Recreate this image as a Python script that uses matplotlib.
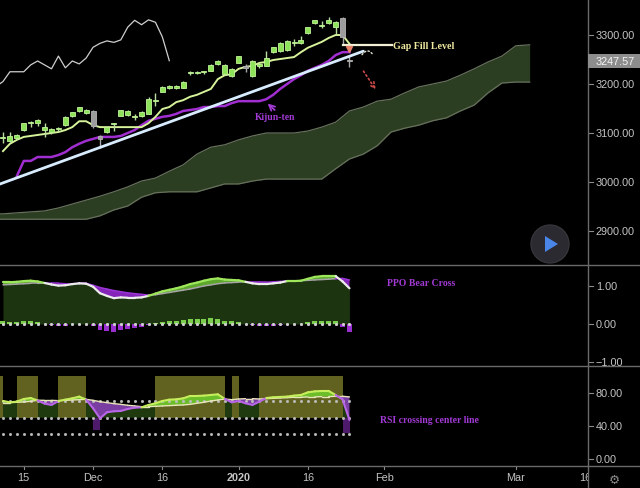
import numpy as np
import pandas as pd
import matplotlib
matplotlib.use('Agg')
from matplotlib import pyplot as plt
from matplotlib.collections import LineCollection
from matplotlib.lines import Line2D
from matplotlib.patches import Circle, Polygon, Rectangle
from matplotlib.transforms import Bbox, TransformedBbox, IdentityTransform, blended_transform_factory

plt.rcParams['font.family'] = ['Liberation Sans', 'DejaVu Sans']

# --- data -------------------------------------------------------------------
holidays = ['2019-11-28', '2019-12-25', '2020-01-01', '2020-01-20', '2020-02-17']
sessions = pd.bdate_range('2019-11-12', '2020-03-31').drop(pd.DatetimeIndex(holidays))

opens = [3090, 3084, 3090, 3106, 3120, 3121, 3106, 3102, 3109, 3116, 3135, 3145, 3140,
         3145, 3094, 3102, 3118, 3135, 3136, 3132, 3135, 3139, 3166, 3184, 3192, 3191,
         3192, 3223, 3223, 3224, 3227, 3240, 3220, 3216, 3243, 3236, 3216, 3236, 3237,
         3266, 3268, 3270, 3283, 3283, 3304, 3324, 3319, 3324, 3316, 3335, 3249]
highs = [3102, 3102, 3098, 3121, 3124, 3128, 3120, 3110, 3113, 3134, 3143, 3154, 3148,
         3146, 3096, 3114, 3121, 3147, 3146, 3139, 3144, 3173, 3182, 3195, 3197, 3198,
         3206, 3226, 3227, 3226, 3240, 3248, 3240, 3232, 3258, 3240, 3248, 3243, 3267,
         3276, 3285, 3289, 3292, 3298, 3317, 3331, 3329, 3337, 3328, 3337, 3258]
lows = [3080, 3082, 3088, 3105, 3112, 3114, 3092, 3097, 3104, 3115, 3133, 3143, 3138,
        3110, 3070, 3100, 3104, 3134, 3135, 3127, 3133, 3138, 3155, 3183, 3190, 3190,
        3191, 3218, 3221, 3220, 3226, 3238, 3218, 3214, 3242, 3225, 3214, 3233, 3236,
        3263, 3266, 3268, 3278, 3281, 3302, 3322, 3314, 3322, 3302, 3282, 3234]
closes = [3092, 3094, 3096, 3120, 3123, 3127, 3113, 3108, 3111, 3133, 3142, 3153, 3147,
          3114, 3087, 3112, 3120, 3146, 3144, 3134, 3142, 3170, 3168, 3193, 3195, 3195,
          3205, 3225, 3225, 3225, 3239, 3247, 3239, 3231, 3257, 3233, 3247, 3241, 3253,
          3275, 3283, 3288, 3285, 3290, 3316, 3330, 3321, 3331, 3326, 3296, 3247.57]

tenkan = [3063, 3078, 3086, 3092, 3094, 3096, 3098, 3100, 3102, 3106, 3112, 3124, 3124,
          3116, 3112, 3112, 3112, 3112, 3112, 3112, 3112, 3120, 3133, 3149, 3153, 3163,
          3167, 3174, 3178, 3184, 3190, 3210, 3218, 3220, 3231, 3235, 3237, 3243, 3245,
          3249, 3251, 3253, 3255, 3265, 3274, 3280, 3286, 3294, 3300, 3300, 3282]
kijun = [np.nan, np.nan, 3012, 3043, 3043, 3051, 3051, 3051, 3055, 3061, 3071, 3078, 3084,
         3088, 3092, 3092, 3092, 3094, 3100, 3106, 3116, 3125, 3129, 3133, 3135, 3139,
         3145, 3147, 3149, 3153, 3153, 3155, 3155, 3161, 3165, 3165, 3165, 3165, 3169,
         3178, 3190, 3200, 3210, 3218, 3227, 3233, 3239, 3247, 3259, 3265, 3265]
chikou_shift = 26

# cloud sampled every second bar, starting two bars before the first candle
cloud_start, cloud_step = -2, 2
span_a = [2935, 2935, 2937, 2939, 2941, 2947, 2955, 2963, 2971, 2980, 2990, 3002, 3008,
          3022, 3035, 3057, 3071, 3076, 3086, 3094, 3100, 3100, 3100, 3104, 3112, 3122,
          3145, 3153, 3165, 3169, 3182, 3194, 3200, 3206, 3218, 3231, 3245, 3257, 3278, 3280]
span_b = [2924, 2924, 2924, 2924, 2924, 2924, 2924, 2924, 2931, 2943, 2951, 2969, 2978,
          2980, 2980, 2980, 2988, 2996, 2996, 3002, 3006, 3006, 3006, 3006, 3006, 3027,
          3047, 3057, 3074, 3102, 3110, 3116, 3125, 3131, 3145, 3157, 3182, 3202, 3204, 3204]

trend_bars = [-1, 52]
trend_prices = [2993, 3267]
gap_fill = 3280
last_price = 3247.57

ppo_line = [1.10, 1.10, 1.11, 1.13, 1.14, 1.12, 1.08, 1.04, 1.01, 1.02, 1.05, 1.07, 1.06,
            0.98, 0.81, 0.74, 0.68, 0.70, 0.69, 0.69, 0.70, 0.74, 0.80, 0.86, 0.90, 0.94,
            0.99, 1.05, 1.09, 1.14, 1.18, 1.20, 1.17, 1.16, 1.15, 1.11, 1.07, 1.05, 1.05,
            1.07, 1.09, 1.13, 1.13, 1.14, 1.19, 1.24, 1.26, 1.26, 1.26, 1.12, 0.94]
ppo_signal = [1.03, 1.04, 1.05, 1.06, 1.07, 1.07, 1.08, 1.07, 1.07, 1.06, 1.06, 1.07, 1.07,
              1.02, 0.96, 0.92, 0.88, 0.85, 0.82, 0.80, 0.78, 0.76, 0.77, 0.80, 0.83, 0.86,
              0.89, 0.92, 0.96, 1.00, 1.03, 1.06, 1.08, 1.09, 1.10, 1.10, 1.10, 1.10, 1.10,
              1.11, 1.12, 1.13, 1.13, 1.14, 1.15, 1.16, 1.17, 1.18, 1.19, 1.20, 1.16]

rsi = [70.3, 68.7, 69.5, 72.7, 73.9, 70.9, 67.1, 65.5, 70.2, 71.9, 73.5, 75.6, 71.9,
       61.4, 49.3, 56.6, 57.8, 58.2, 60.6, 62.2, 62.6, 65.5, 67.5, 70.3, 71.9, 72.3,
       73.5, 76.4, 76.4, 76.8, 77.6, 78.4, 72.9, 68.7, 70.3, 67.5, 65.5, 69.5, 73.9,
       74.8, 75.2, 75.6, 76.8, 77.6, 80.8, 82.0, 82.4, 82.4, 77.6, 72.3, 47.3]
rsi_signal = [68.3, 68.3, 68.7, 69.1, 69.9, 71.2, 71.1, 71.1, 70.7, 71.1, 71.5, 71.9, 72.3,
              71.1, 69.5, 68.3, 67.1, 66.2, 65.1, 64.3, 63.4, 63.4, 63.8, 64.3, 64.7, 65.1,
              65.5, 66.2, 67.5, 68.7, 70.3, 71.5, 72.7, 71.9, 72.7, 73.1, 73.1, 72.7, 73.1,
              73.5, 73.9, 74.3, 74.8, 74.8, 75.2, 75.2, 75.6, 75.6, 76.0, 76.0, 75.2]
rsi_bg_spans = [(-1, 0), (2, 5), (8, 12), (22, 32), (33, 34), (37, 49)]
rsi_dip_bars = [13.5, 49.6]
rsi_dip_lows = [35, 31]
rsi_levels = [70, 50, 30]

tick_dates = ['2019-11-15', '2019-12-02', '2019-12-16', '2020-01-02', '2020-01-16',
              '2020-02-03', '2020-03-02', '2020-03-16']
tick_labels = ['15', 'Dec', '16', '2020', '16', 'Feb', 'Mar', '16']

# --- layout -----------------------------------------------------------------
W, H = 640, 489
AXR = 588 / W
BG = '#000000'
GRID = '#6a6a6a'
TXT = '#c4c4c4'
PURPLE_TXT = '#a23ad4'

fig = plt.figure(figsize=(W / 100, H / 100), dpi=100, facecolor=BG)


def fy(py):
    return 1 - py / H


def pane(top, bottom, ylim):
    ax = fig.add_axes([0, fy(bottom), AXR, fy(top) - fy(bottom)], facecolor=BG)
    ax.set_xlim(-0.43, 84.42)
    ax.set_ylim(*ylim)
    for s in ax.spines.values():
        s.set_visible(False)
    ax.set_xticks([])
    ax.set_yticks([])
    return ax


ax = pane(0, 266, (2830.6, 3373.5))
ax_ppo = pane(266, 367, (-1.105, 1.553))
ax_rsi = pane(367, 467, (-8.5, 112.7))


def price_axis(a, ticks, fmt):
    pos = a.get_position()
    clip = TransformedBbox(Bbox([[pos.x1, pos.y0], [1, pos.y1]]), fig.transFigure)
    tr = blended_transform_factory(fig.transFigure, a.transData)
    for v in ticks:
        t = fig.text(596 / W, v, fmt(v), transform=tr, color=TXT, fontsize=7.8,
                     ha='left', va='center')
        t.set_clip_box(clip)
        t.set_clip_on(True)
        fig.add_artist(Line2D([589 / W, 593 / W], [v, v], transform=tr, color='#8a8a8a', lw=0.8))


def two_tone(a, xs, ys, cond, c_true, c_false, lw, z):
    pts = np.column_stack([xs, ys])
    segs = np.stack([pts[:-1], pts[1:]], axis=1)
    cols = [c_true if c else c_false for c in cond]
    a.add_collection(LineCollection(segs, colors=cols, linewidths=lw, zorder=z,
                                    capstyle='round', joinstyle='round'))


n = len(closes)
x = np.arange(n)
o, h, l, c = map(np.array, (opens, highs, lows, closes))

# --- main pane: ichimoku + candles -----------------------------------------
cx = cloud_start + cloud_step * np.arange(len(span_a))
ax.fill_between(cx, span_a, span_b, color='#2c3e22', lw=0, zorder=1)
ax.plot(cx, span_a, color='#66705c', lw=0.9, zorder=1)
ax.plot(cx, span_b, color='#66705c', lw=0.9, zorder=1)

ax.plot(x - chikou_shift, c, color='#cfcfcf', lw=0.9, zorder=2)
ax.plot(x, kijun, color='#a02ed0', lw=1.8, zorder=3)
ax.plot(x, tenkan, color='#d6f29a', lw=1.4, zorder=3)
ax.plot(trend_bars, trend_prices, color='#d8ecff', lw=2.0, zorder=5, solid_capstyle='round')

up = c >= o
body_col = np.where(up, '#8ee25a', '#9c9c9c')
edge_col = np.where(up, '#c2f49a', '#b4b4b4')
ax.vlines(x, l, h, colors=np.where(up, '#b9dca0', '#a8a8a8'), lw=1.0, zorder=4)
ax.bar(x, np.maximum(np.abs(c - o), 1.8), bottom=np.minimum(o, c), width=0.72,
       color=body_col, edgecolor=edge_col, lw=0.6, zorder=4)

# annotations
serif = ['Liberation Serif', 'DejaVu Serif']
ax.plot([49, 56.1], [gap_fill, gap_fill], color='#f1f0d6', lw=1.6, zorder=6)
ax.text(56.3, gap_fill - 2, 'Gap Fill Level', color='#f0e9a0', fontsize=7.2,
        family=serif, weight='bold', va='center', ha='left', zorder=6)
ax.text(36.4, 3133, 'Kijun-ten', color=PURPLE_TXT, fontsize=6.9, family=serif,
        weight='bold', va='center', ha='left', zorder=6)
ax.annotate('', xy=(37.9, 3164), xytext=(39.5, 3143),
            arrowprops=dict(arrowstyle='->', color=PURPLE_TXT, lw=1.3), zorder=6)
ax.plot([50], [3271], marker='v', ms=5, color='#e8826c', zorder=6, ls='none')
ax.annotate('', xy=(54.0, 3184), xytext=(51.8, 3231),
            arrowprops=dict(arrowstyle='->', color='#cc4a4a', lw=1.2, ls=':'), zorder=6)
ax.annotate('', xy=(53.6, 3255), xytext=(51.6, 3255),
            arrowprops=dict(arrowstyle='-', color='#e6e6d0', lw=1.0, ls=':',
                            connectionstyle='arc3,rad=-0.9'), zorder=6)

# --- PPO pane ----------------------------------------------------------------
pl, ps = np.array(ppo_line), np.array(ppo_signal)
ax_ppo.fill_between(x, 0, np.minimum(pl, ps), color='#1d3410', lw=0, zorder=1)
ax_ppo.fill_between(x, pl, ps, where=pl >= ps, interpolate=True, color='#5da82c', lw=0, zorder=2)
ax_ppo.fill_between(x, pl, ps, where=pl < ps, interpolate=True, color='#8424b8', lw=0, zorder=2)
hist = pl - ps
ax_ppo.bar(x, hist, width=0.72, color=np.where(hist >= 0, '#7ccf4c', '#9a2fd0'), zorder=3)
seg_up = (hist[:-1] + hist[1:]) >= 0
two_tone(ax_ppo, x, ps, seg_up, '#a6a6a6', '#9b34d6', 1.1, 4)
two_tone(ax_ppo, x, pl, seg_up, '#9ee65c', '#ececec', 1.6, 5)
dots = np.arange(-1, n)
ax_ppo.plot(dots, np.zeros(len(dots)), ls='none', marker='s', ms=1.1, color='#cfcfcf', zorder=4)
ax_ppo.text(55.4, 1.105, 'PPO Bear Cross', color=PURPLE_TXT, fontsize=7, family=serif,
            weight='bold', va='center', ha='left')

# --- RSI pane ----------------------------------------------------------------
rl, rs = np.array(rsi), np.array(rsi_signal)
low_line = np.minimum(rl, rs)
ax_rsi.fill_between(x, 50, low_line, where=low_line > 50, interpolate=True,
                    color='#1f3a0f', lw=0, zorder=1)
for s, e in rsi_bg_spans:
    ax_rsi.fill_between([s, e], 50, 100, color='#626220', lw=0, zorder=2)
ax_rsi.bar(rsi_dip_bars, 50 - np.array(rsi_dip_lows), bottom=rsi_dip_lows, width=1.0,
           color='#4e1a6c', zorder=2)
ax_rsi.fill_between(x, rl, rs, where=rl >= rs, interpolate=True, color='#6cbd2a', lw=0, zorder=3)
ax_rsi.fill_between(x, rl, rs, where=rl < rs, interpolate=True, color='#7a3da2', lw=0, zorder=3)
for lvl in rsi_levels:
    ax_rsi.plot(dots, np.full(len(dots), lvl), ls='none', marker='s', ms=1.0,
                color='#bdbdbd', zorder=4)
rdiff = rl - rs
two_tone(ax_rsi, x, rs, np.ones(n - 1, bool), '#e8e6b8', '#e8e6b8', 1.0, 5)
two_tone(ax_rsi, x, rl, (rdiff[:-1] + rdiff[1:]) >= 0, '#c6ee5c', '#b866e6', 1.5, 6)
ax_rsi.text(54.4, 47.3, 'RSI crossing center line', color=PURPLE_TXT, fontsize=7,
            family=serif, weight='bold', va='center', ha='left')

# --- price scales ------------------------------------------------------------
def two_dec(v):
    return f'{v:.2f}'.replace('-', '\u2212')


price_axis(ax, [2900, 3000, 3100, 3200, 3300], two_dec)
price_axis(ax_ppo, [-1, 0, 1], two_dec)
price_axis(ax_rsi, [0, 40, 80], two_dec)

tr_main = blended_transform_factory(fig.transFigure, ax.transData)
fig.add_artist(Rectangle((AXR, last_price - 14.3), 1 - AXR, 28.6, transform=tr_main,
                         facecolor='#8d8d8d', edgecolor='none', zorder=5))
fig.text(596 / W, last_price, f'{last_price:.2f}', transform=tr_main, color='#f4f4f4',
         fontsize=7.8, ha='left', va='center', zorder=6)

# --- time scale --------------------------------------------------------------
tr_time = blended_transform_factory(ax.transData, fig.transFigure)
date_clip = TransformedBbox(Bbox([[0, 0], [AXR, fy(467)]]), fig.transFigure)
for d, lab in zip(tick_dates, tick_labels):
    b = sessions.get_loc(pd.Timestamp(d))
    t = fig.text(b, fy(478), lab, transform=tr_time, color=TXT, fontsize=7.8,
                 ha='center', va='center', weight='bold' if lab == '2020' else 'normal')
    t.set_clip_box(date_clip)
    t.set_clip_on(True)
    if b < 84:
        fig.add_artist(Line2D([b, b], [fy(467), fy(470)], transform=tr_time,
                              color='#8a8a8a', lw=0.8))
fig.text(614 / W, fy(480), '\u2699', color='#8a8a8a', fontsize=9, ha='center',
         va='center', family=['DejaVu Sans'])

# --- pane separators ---------------------------------------------------------
for py in (266, 367, 467):
    fig.add_artist(Line2D([0, 1], [fy(py), fy(py)], color=GRID, lw=1.0))
fig.add_artist(Line2D([AXR, AXR], [0, 1], color=GRID, lw=1.0))

# replay button
fig.add_artist(Circle((550, H - 245), 19, transform=IdentityTransform(),
                      facecolor='#2a2a30', edgecolor='#34343a', lw=1, zorder=10))
fig.add_artist(Polygon([(545, H - 237), (545, H - 253), (558, H - 245)],
                       transform=IdentityTransform(), facecolor='#4a86e8',
                       edgecolor='none', zorder=11))

fig.savefig('out.png', dpi=100, facecolor=BG)
